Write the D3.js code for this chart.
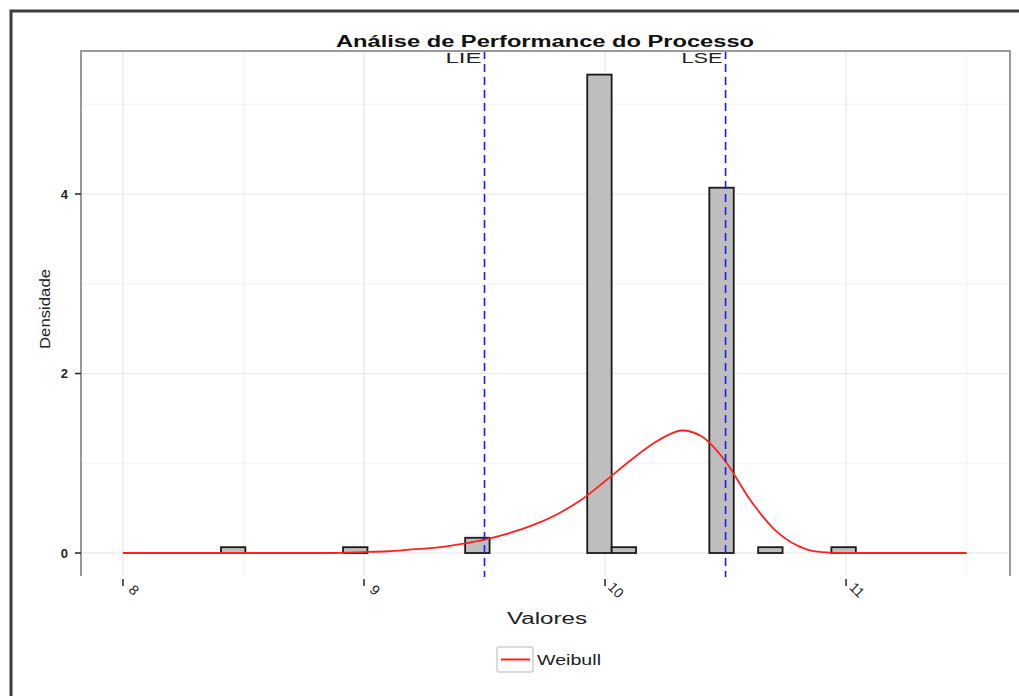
<!DOCTYPE html>
<html>
<head>
<meta charset="utf-8">
<script src="https://cdn.jsdelivr.net/npm/d3@7"></script>
<style>
  html, body { margin: 0; padding: 0; background: #fff; }
  svg { display: block; }
  text { font-family: "Liberation Sans", Arial, sans-serif; }
</style>
</head>
<body>
<svg id="chart" width="1019" height="696"></svg>
<script>
// Histogram bins (left edge of each bin) and their densities
const binWidth = 0.1013;
const binLeft = [8.4066, 8.5079, 8.6092, 8.7105, 8.8118, 8.9131, 9.0144, 9.1157, 9.2170,
  9.3183, 9.4196, 9.5209, 9.6222, 9.7235, 9.8248, 9.9261, 10.0274, 10.1287, 10.2300,
  10.3313, 10.4326, 10.5339, 10.6352, 10.7365, 10.8378, 10.9391];
const density = [0.065, 0, 0, 0, 0, 0.065, 0, 0, 0, 0, 0.17, 0, 0, 0, 0, 5.33, 0.065, 0, 0, 0,
  4.07, 0, 0.065, 0, 0, 0.065];

// Fitted Weibull density curve
const curveX = [8.0, 8.5, 8.85, 9.0, 9.1, 9.2, 9.3, 9.4, 9.5, 9.6, 9.7, 9.8, 9.9, 10.0, 10.1,
  10.2, 10.25, 10.32, 10.4, 10.5, 10.6, 10.7, 10.8, 10.85, 10.9, 11.0, 11.5];
const curveY = [0, 0, 0.0, 0.01, 0.02, 0.04, 0.06, 0.10, 0.15, 0.22, 0.31, 0.43, 0.59, 0.80, 1.02,
  1.22, 1.30, 1.365, 1.30, 1.02, 0.60, 0.27, 0.08, 0.03, 0.01, 0, 0];

// Specification limits
const specNames = ["LIE", "LSE"];
const specValues = [9.5, 10.5];

// Axis ticks
const xTicks = [8, 9, 10, 11];
const xMinor = [8.5, 9.5, 10.5, 11.5];
const yTicks = [0, 2, 4];
const yMinor = [1, 3, 5];

const title = "Análise de Performance do Processo";
const xTitle = "Valores";
const yTitle = "Densidade";
const legendLabel = "Weibull";

const svg = d3.select("#chart");

// Outer frame
svg.append("path")
  .attr("d", "M11,696 V11 H1019")
  .attr("fill", "none").attr("stroke", "#3c3c3c").attr("stroke-width", 3);

const panel = { left: 81, right: 1010, top: 51, bottom: 576 };

const x = d3.scaleLinear().domain([7.826, 11.68]).range([panel.left, panel.right]);
const y = d3.scaleLinear().domain([-0.256, 5.593]).range([panel.bottom, panel.top]);

// Grid
const grid = svg.append("g");
grid.selectAll(".vminor").data(xMinor).join("line")
  .attr("x1", d => x(d)).attr("x2", d => x(d))
  .attr("y1", panel.top).attr("y2", panel.bottom)
  .attr("stroke", "#f3f3f3").attr("stroke-width", 1);
grid.selectAll(".hminor").data(yMinor).join("line")
  .attr("x1", panel.left).attr("x2", panel.right)
  .attr("y1", d => y(d)).attr("y2", d => y(d))
  .attr("stroke", "#f3f3f3").attr("stroke-width", 1);
grid.selectAll(".vmajor").data(xTicks).join("line")
  .attr("x1", d => x(d)).attr("x2", d => x(d))
  .attr("y1", panel.top).attr("y2", panel.bottom)
  .attr("stroke", "#e6e6e6").attr("stroke-width", 1.2);
grid.selectAll(".hmajor").data(yTicks).join("line")
  .attr("x1", panel.left).attr("x2", panel.right)
  .attr("y1", d => y(d)).attr("y2", d => y(d))
  .attr("stroke", "#e6e6e6").attr("stroke-width", 1.2);

// Histogram bars
svg.append("g").selectAll("rect").data(binLeft).join("rect")
  .attr("x", d => x(d))
  .attr("width", d => x(d + binWidth) - x(d))
  .attr("y", (d, i) => y(density[i]))
  .attr("height", (d, i) => y(0) - y(density[i]))
  .attr("fill", "#bebebe")
  .attr("stroke", "#1a1a1a")
  .attr("stroke-width", 1.8);

// Weibull curve
const line = d3.line().x(d => x(d[0])).y(d => y(d[1])).curve(d3.curveMonotoneX);
svg.append("path")
  .datum(curveX.map((v, i) => [v, curveY[i]]))
  .attr("d", line)
  .attr("fill", "none")
  .attr("stroke", "#ff2020")
  .attr("stroke-width", 1.8);

// Specification limit lines and labels
svg.append("g").selectAll("line").data(specValues).join("line")
  .attr("x1", d => x(d)).attr("x2", d => x(d))
  .attr("y1", panel.top).attr("y2", panel.bottom + 1)
  .attr("stroke", "#1a1aff").attr("stroke-width", 1.6)
  .attr("stroke-dasharray", "8,5");

const specLen = [36, 41];
svg.append("g").selectAll("text").data(specNames).join("text")
  .attr("x", (d, i) => x(specValues[i]) - 3)
  .attr("y", 63)
  .attr("text-anchor", "end")
  .attr("font-size", 14)
  .attr("fill", "#222")
  .attr("textLength", (d, i) => specLen[i])
  .attr("lengthAdjust", "spacingAndGlyphs")
  .text(d => d);

// Panel border (left, top, right)
svg.append("path")
  .attr("d", `M${panel.left},${panel.bottom} V${panel.top} H${panel.right} V${panel.bottom}`)
  .attr("fill", "none").attr("stroke", "#9a9a9a").attr("stroke-width", 2);

// Y axis ticks and labels
const yAxis = svg.append("g");
yAxis.selectAll("line").data(yTicks).join("line")
  .attr("x1", panel.left - 6).attr("x2", panel.left)
  .attr("y1", d => y(d)).attr("y2", d => y(d))
  .attr("stroke", "#222").attr("stroke-width", 1.5);
yAxis.selectAll("text").data(yTicks).join("text")
  .attr("x", panel.left - 13)
  .attr("y", d => y(d))
  .attr("dy", "0.35em")
  .attr("text-anchor", "end")
  .attr("font-size", 13)
  .attr("font-weight", "bold")
  .attr("fill", "#222")
  .text(d => d);

// X axis ticks and rotated labels
const xAxis = svg.append("g");
xAxis.selectAll("line").data(xTicks).join("line")
  .attr("x1", d => x(d)).attr("x2", d => x(d))
  .attr("y1", 579).attr("y2", 586)
  .attr("stroke", "#222").attr("stroke-width", 1.5);
xAxis.selectAll("text").data(xTicks).join("text")
  .attr("transform", d => `translate(${x(d) + 11},${590}) rotate(45)`)
  .attr("text-anchor", "middle")
  .attr("dy", "0.35em")
  .attr("font-size", 14)
  .attr("fill", "#222")
  .text(d => d);

// Titles
svg.append("text")
  .attr("x", 545).attr("y", 47)
  .attr("text-anchor", "middle")
  .attr("font-size", 16).attr("font-weight", "bold")
  .attr("fill", "#111")
  .attr("textLength", 418).attr("lengthAdjust", "spacingAndGlyphs")
  .text(title);

svg.append("text")
  .attr("x", 547).attr("y", 624)
  .attr("text-anchor", "middle")
  .attr("font-size", 16)
  .attr("fill", "#222")
  .attr("textLength", 80).attr("lengthAdjust", "spacingAndGlyphs")
  .text(xTitle);

svg.append("text")
  .attr("transform", "translate(50,309) rotate(-90)")
  .attr("text-anchor", "middle")
  .attr("font-size", 14)
  .attr("fill", "#222")
  .attr("textLength", 80).attr("lengthAdjust", "spacingAndGlyphs")
  .text(yTitle);

// Legend
const legend = svg.append("g");
legend.append("rect")
  .attr("x", 497).attr("y", 647).attr("width", 36).attr("height", 25)
  .attr("rx", 2)
  .attr("fill", "#fff").attr("stroke", "#cfcfcf").attr("stroke-width", 1.5);
legend.append("line")
  .attr("x1", 501).attr("x2", 530).attr("y1", 659.5).attr("y2", 659.5)
  .attr("stroke", "#ff2020").attr("stroke-width", 2);
legend.append("text")
  .attr("x", 537).attr("y", 665)
  .attr("font-size", 14)
  .attr("fill", "#222")
  .attr("textLength", 64).attr("lengthAdjust", "spacingAndGlyphs")
  .text(legendLabel);
</script>
</body>
</html>
